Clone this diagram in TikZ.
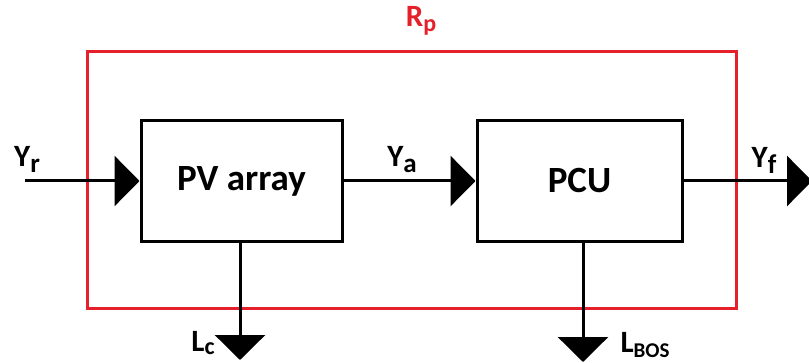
\documentclass[tikz,border=0pt]{standalone}
\usepackage{fontspec}
\setmainfont{Carlito}
\usetikzlibrary{arrows.meta}
\definecolor{rpred}{RGB}{230,32,42}
\begin{document}
\begin{tikzpicture}[x=1pt,y=1pt,
  blk/.style={draw=black,line width=3pt,minimum width=201pt,minimum height=120pt,font=\fontsize{37}{40}\selectfont\bfseries,inner sep=0pt},
  flow/.style={line width=3pt,-{Triangle[length=25pt,width=50pt]}},
  lbl/.style={font=\fontsize{31}{34}\selectfont\bfseries,inner sep=0pt}]
\useasboundingbox (0,0) rectangle (809,362);
\fill[white] (0,0) rectangle (809,362);
\draw[rpred,line width=3pt] (87,310) rectangle (736,54);
\node[blk] (pv) at (241.5,181) {PV array};
\node[blk,minimum width=205pt] (pcu) at (579.5,181) {PCU};
\coordinate (yin) at (25,181);
\coordinate (yout) at (812,181);
\coordinate (lc) at (240,2);
\coordinate (lbos) at (583,0);
\draw[flow] (yin) -- (yin -| pv.west);
\draw[flow] (pv.east |- yin) -- (pcu.west |- yin);
\draw[flow] (pcu.east |- yin) -- (yout);
\draw[flow] (lc |- pv.south) -- (lc);
\draw[flow] (lbos |- pcu.south) -- (lbos);
\node[lbl] (tyr) at (27,203) {Y\raisebox{-6pt}{\fontsize{27}{30}\selectfont r}};
\node[lbl] (tya) at (402,202) {Y\raisebox{-6pt}{\fontsize{27}{30}\selectfont a}};
\node[lbl] (tyf) at (764,202) {Y\raisebox{-6pt}{\fontsize{27}{30}\selectfont f}};
\node[lbl] (tlc) at (203,19) {L\raisebox{-3pt}{\fontsize{24}{28}\selectfont c}};
\node[lbl] (tlb) at (645,17) {L\raisebox{-5pt}{\fontsize{21}{24}\selectfont BOS}};
\node[lbl,text=rpred] (trp) at (421,341) {R\raisebox{-5pt}{\fontsize{24}{28}\selectfont p}};
\end{tikzpicture}
\end{document}
